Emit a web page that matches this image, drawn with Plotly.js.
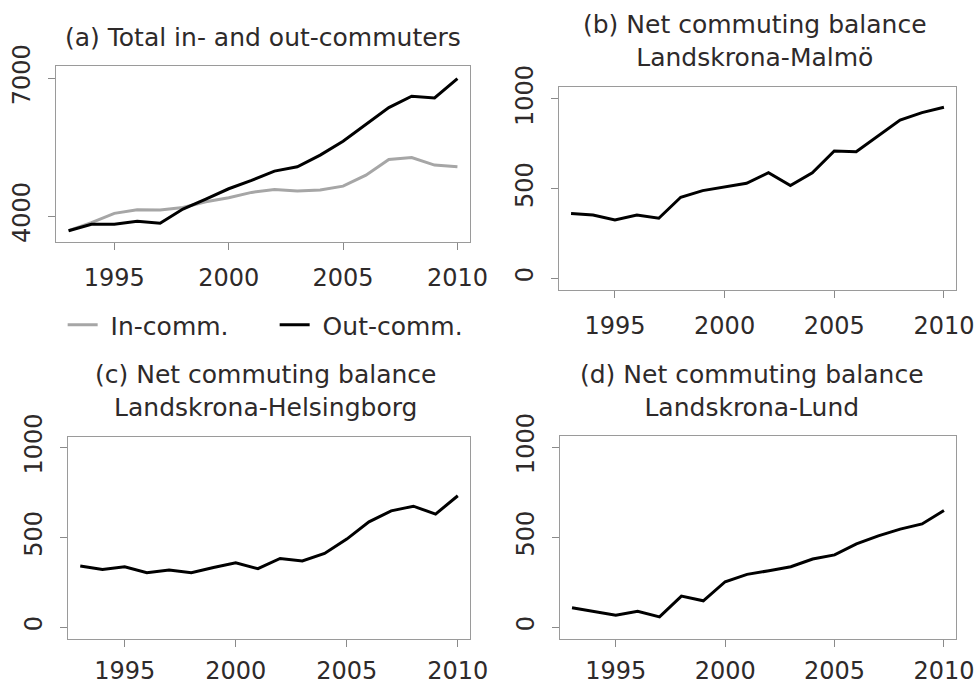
<!DOCTYPE html>
<html>
<head>
<meta charset="utf-8">
<script src="https://cdn.plot.ly/plotly-3.0.1.min.js"></script>
<style>
  html, body { margin: 0; padding: 0; background: #fff; }
  #chart { width: 979px; height: 686px; }
</style>
</head>
<body>
<div id="chart"></div>
<script>
// years on every panel
const years = [1993, 1994, 1995, 1996, 1997, 1998, 1999, 2000, 2001, 2002,
               2003, 2004, 2005, 2006, 2007, 2008, 2009, 2010]

// (a) totals
const inComm  = [3681, 3855, 4058, 4138, 4130, 4188, 4311, 4398, 4515, 4580,
                 4543, 4565, 4652, 4891, 5232, 5276, 5109, 5072]
const outComm = [3681, 3819, 3819, 3884, 3841, 4152, 4370, 4594, 4775, 4978,
                 5072, 5326, 5630, 5993, 6362, 6609, 6572, 6993]

// (b)-(d) net balances
const netMalmo = [362, 353, 325, 353, 335, 452, 489, 511, 530, 589,
                  517, 589, 710, 706, 794, 883, 924, 954]
const netHelsingborg = [341, 322, 337, 304, 319, 304, 333, 359, 326, 383,
                        369, 411, 491, 587, 648, 674, 630, 732]
const netLund = [108, 89, 67, 89, 58, 173, 147, 253, 294, 314,
                 336, 379, 402, 463, 508, 545, 574, 649]

const xTicks = [1995, 2000, 2005, 2010]
const netTicks = [0, 500, 1000]
const totTicks = [4000, 7000]

const FONT = 'DejaVu Sans, Verdana, sans-serif'
const TXT = '#2e2a2a'

function xAxis(domain, anchor, standoff) {
  return {
    domain, anchor,
    range: [1992.45, 2010.55],
    tickvals: xTicks,
    ticks: 'outside', ticklen: 7, tickcolor: '#8a8a8a', tickwidth: 1,
    ticklabelstandoff: standoff,
    showline: true, mirror: true, linecolor: '#9a9a9a', linewidth: 1,
    showgrid: false, zeroline: false,
    tickfont: {family: FONT, size: 24, color: TXT},
  }
}

function yAxis(domain, anchor, range, vals) {
  return {
    domain, anchor, range,
    tickvals: vals,
    tickangle: -90,
    ticks: 'outside', ticklen: 7, tickcolor: '#8a8a8a', tickwidth: 1,
    ticklabelstandoff: 8,
    showline: true, mirror: true, linecolor: '#9a9a9a', linewidth: 1,
    showgrid: false, zeroline: false,
    tickfont: {family: FONT, size: 24, color: TXT},
  }
}

const data = [
  {x: years, y: inComm, name: '\u00a0In-comm.', type: 'scatter', mode: 'lines',
   line: {color: '#a6a6a6', width: 3}, xaxis: 'x', yaxis: 'y'},
  {x: years, y: outComm, name: '\u00a0Out-comm.', type: 'scatter', mode: 'lines',
   line: {color: '#000', width: 3}, xaxis: 'x', yaxis: 'y'},
  {x: years, y: netMalmo, type: 'scatter', mode: 'lines', showlegend: false,
   line: {color: '#000', width: 3}, xaxis: 'x2', yaxis: 'y2'},
  {x: years, y: netHelsingborg, type: 'scatter', mode: 'lines', showlegend: false,
   line: {color: '#000', width: 3}, xaxis: 'x3', yaxis: 'y3'},
  {x: years, y: netLund, type: 'scatter', mode: 'lines', showlegend: false,
   line: {color: '#000', width: 3}, xaxis: 'x4', yaxis: 'y4'},
]

const titleFont = {family: FONT, size: 25, color: TXT}
const ann = (text, x, y) => ({
  text, x, y, xref: 'paper', yref: 'paper', showarrow: false,
  xanchor: 'center', yanchor: 'middle', font: titleFont,
})

const layout = {
  width: 979, height: 686,
  margin: {l: 0, r: 0, t: 0, b: 0},
  paper_bgcolor: '#fff', plot_bgcolor: '#fff',
  font: {family: FONT, color: TXT},
  xaxis:  xAxis([0.0572, 0.4801], 'y', 7),
  yaxis:  yAxis([0.6472, 0.9038], 'x', [3434, 7268], totTicks),
  xaxis2: xAxis([0.5710, 0.9765], 'y2', 7),
  yaxis2: yAxis([0.5773, 0.8732], 'x2', [-65, 1067], netTicks),
  xaxis3: xAxis([0.0695, 0.4801], 'y3', 3),
  yaxis3: yAxis([0.0685, 0.3630], 'x3', [-65, 1059], netTicks),
  xaxis4: xAxis([0.5720, 0.9765], 'y4', 3),
  yaxis4: yAxis([0.0685, 0.3644], 'x4', [-65, 1062], netTicks),
  showlegend: true,
  legend: {
    orientation: 'h', x: 0.064, y: 1 - 325 / 686,
    xanchor: 'left', yanchor: 'middle',
    font: {family: FONT, size: 25, color: TXT},
    entrywidth: 167, entrywidthmode: 'pixels',
    bgcolor: 'rgba(0,0,0,0)',
  },
  annotations: [
    ann('(a) Total in- and out-commuters', 263 / 979, 1 - 38 / 686),
    ann('(b) Net commuting balance<br>Landskrona-Malmö', 755 / 979, 1 - 41 / 686),
    ann('(c) Net commuting balance<br>Landskrona-Helsingborg', 265 / 979, 1 - 391 / 686),
    ann('(d) Net commuting balance<br>Landskrona-Lund', 752 / 979, 1 - 391 / 686),
  ],
}

Plotly.newPlot('chart', data, layout, {displayModeBar: false, staticPlot: true})
</script>
</body>
</html>
